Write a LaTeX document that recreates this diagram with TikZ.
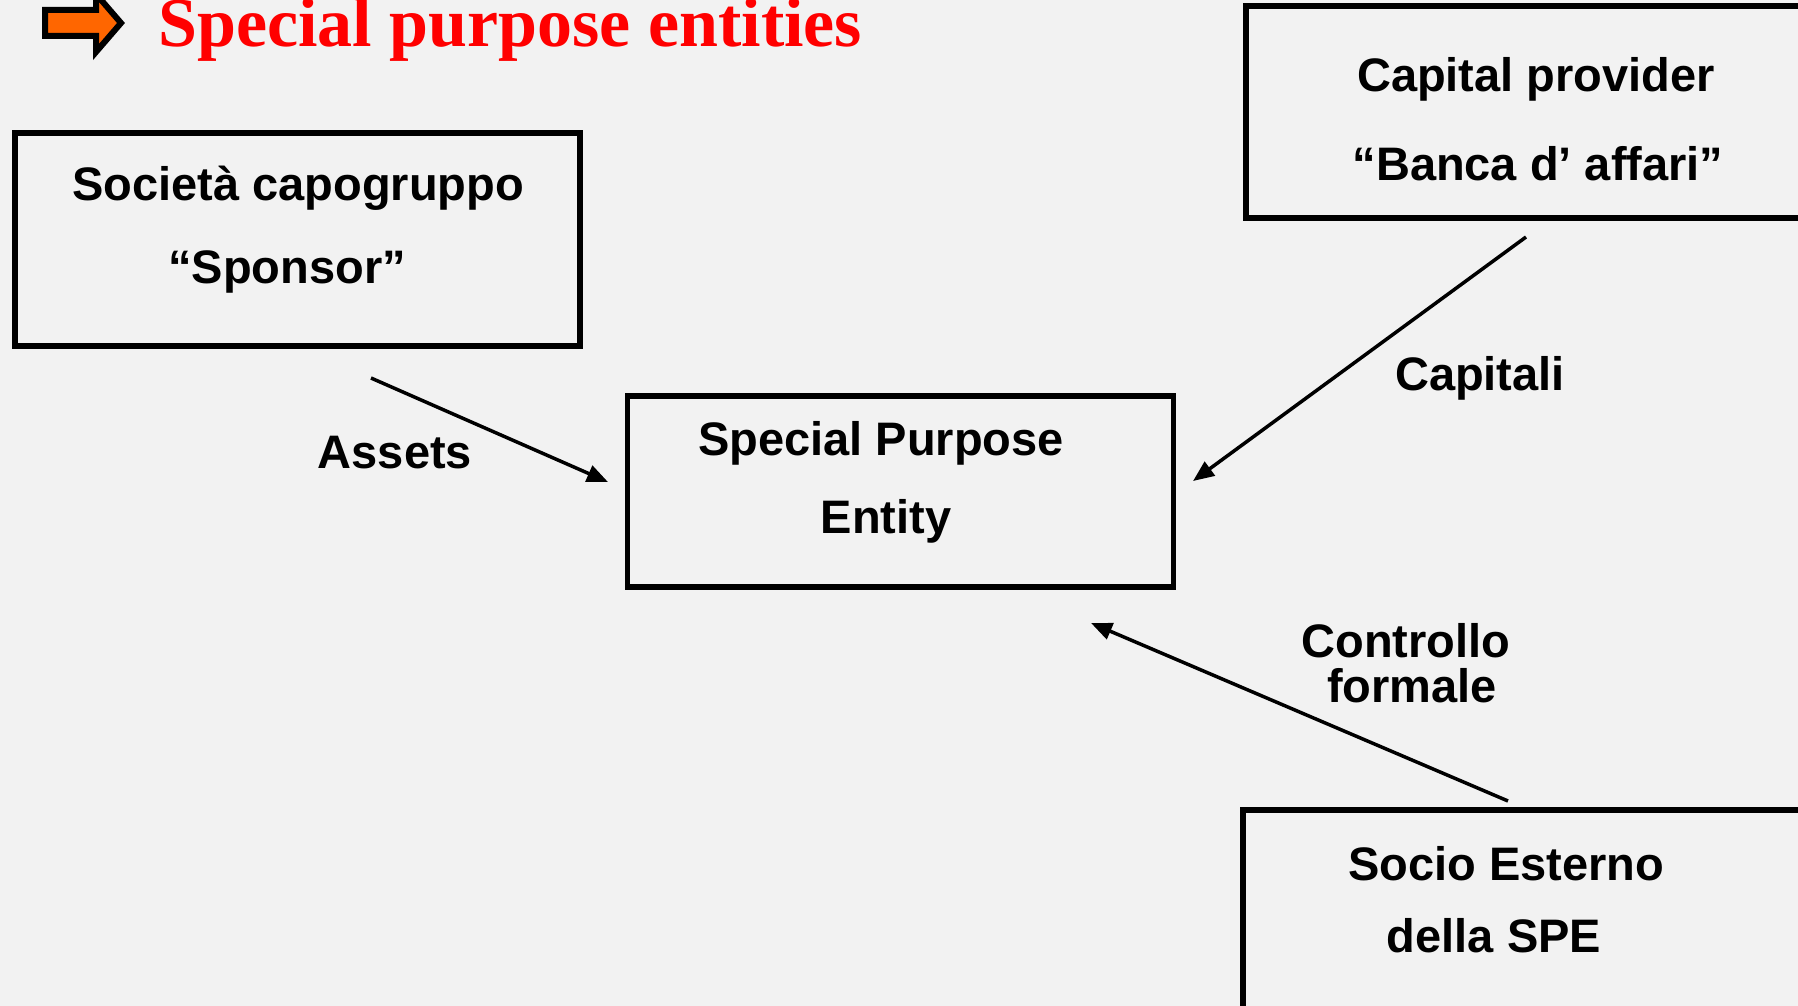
\documentclass[tikz,border=0pt]{standalone}
\usepackage{fontspec}
\setmainfont{Liberation Sans}
\newfontfamily\titlefont{Liberation Serif}
\usetikzlibrary{arrows.meta}
\definecolor{slidebg}{HTML}{F2F2F2}
\definecolor{titlered}{HTML}{FF0000}
\definecolor{bulletorange}{HTML}{FF6600}
\begin{document}
\begin{tikzpicture}[x=1pt,y=-1pt,
  box/.style={draw=black, line width=5.5pt, rectangle, inner sep=0pt, outer sep=0pt},
  lbl/.style={font=\fontsize{47}{56}\selectfont\bfseries, anchor=base, inner sep=0pt},
  flow/.style={draw=black, line width=3.5pt, -{Triangle[length=21pt,width=17pt]}}]
% slide background and page size
\fill[slidebg] (0,0) rectangle (1798,1006);
\useasboundingbox (0,0) rectangle (1798,1006);

% title bullet arrow and heading
\draw[line width=6pt, fill=bulletorange, line join=miter]
  (45,10) -- (96,10) -- (96,-6) -- (121,23) -- (96,52) -- (96,36) -- (45,36) -- cycle;
\node[anchor=base west, inner sep=0pt, text=titlered,
      font=\titlefont\bfseries\fontsize{70}{80}\selectfont] (title) at (158,47)
  {Special purpose entities};

% boxes
\node[box, minimum width=565pt, minimum height=213pt] (sponsor) at (297.5,239.5) {};
\node[box, minimum width=584pt, minimum height=212pt] (provider) at (1538,112) {};
\node[box, minimum width=546pt, minimum height=191pt] (spe) at (900.5,491.5) {};
\node[box, minimum width=587pt, minimum height=230pt] (socio) at (1536.5,925) {};

% box texts
\node[lbl] (sponsorA) at (298,200) {Società capogruppo};
\node[lbl] (sponsorB) at (287,283) {“Sponsor”};
\node[lbl] (providerA) at (1536,92) {Capital provider};
\node[lbl] (providerB) at (1538,180) {“Banca d’ affari”};
\node[lbl] (speA) at (881,455) {Special Purpose};
\node[lbl] (speB) at (886,533) {Entity};
\node[lbl] (socioA) at (1506,880) {Socio Esterno};
\node[lbl] (socioB) at (1494,952) {della SPE};

% flow labels
\node[lbl] (assets) at (395,468) {Assets};
\node[lbl] (capitali) at (1480,390) {Capitali};
\node[lbl] (controllo) at (1406,657) {Controllo};
\node[lbl] (formale) at (1412,702) {formale};

% flow end points
\coordinate (assetsFrom) at (371,378);
\coordinate (assetsTo) at (608,482);
\coordinate (capFrom) at (1526,237);
\coordinate (capTo) at (1193,481);
\coordinate (ctrlFrom) at (1508,801);
\coordinate (ctrlTo) at (1091,623);

% flows
\draw[flow] (assetsFrom) -- (assetsTo);
\draw[flow] (capFrom) -- (capTo);
\draw[flow] (ctrlFrom) -- (ctrlTo);
\end{tikzpicture}
\end{document}
